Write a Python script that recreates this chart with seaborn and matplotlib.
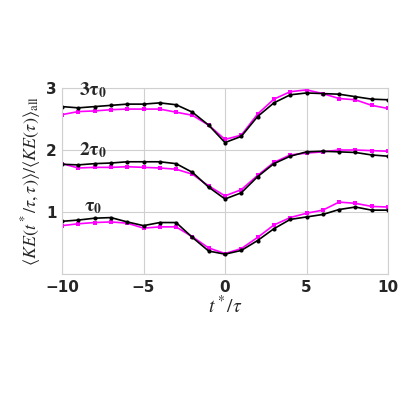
import numpy as np
import matplotlib
matplotlib.use("Agg")
import matplotlib.pyplot as plt
import seaborn as sns
import pandas as pd

t = list(range(-10, 11))
black3 = [2.70,2.68,2.70,2.72,2.74,2.74,2.76,2.73,2.61,2.40,2.12,2.22,2.54,2.76,2.89,2.92,2.91,2.90,2.86,2.82,2.81]
mag3 = [2.57,2.62,2.63,2.65,2.66,2.66,2.66,2.61,2.56,2.40,2.17,2.24,2.58,2.82,2.94,2.97,2.91,2.83,2.81,2.72,2.67]
black2 = [1.77,1.76,1.78,1.79,1.81,1.81,1.81,1.78,1.64,1.40,1.21,1.31,1.57,1.78,1.90,1.97,1.98,1.97,1.96,1.92,1.90]
mag2 = [1.78,1.71,1.72,1.72,1.73,1.72,1.71,1.69,1.61,1.42,1.26,1.36,1.59,1.80,1.92,1.95,1.97,2.00,2.00,1.99,1.98]
black1 = [0.85,0.87,0.90,0.91,0.84,0.78,0.83,0.83,0.59,0.37,0.32,0.38,0.54,0.73,0.88,0.92,0.96,1.04,1.08,1.03,1.03]
mag1 = [0.78,0.81,0.83,0.84,0.82,0.74,0.76,0.76,0.60,0.42,0.33,0.41,0.59,0.79,0.91,0.98,1.03,1.16,1.14,1.09,1.08]
labels = [r"$\mathbf{3\tau_0}$", r"$\mathbf{2\tau_0}$", r"$\mathbf{\tau_0}$"]
label_y = [2.8, 1.84, 0.94]

sns.set_style("white")
plt.rcParams['mathtext.fontset'] = 'stix'
fig = plt.figure(figsize=(4, 4), dpi=100)
ax = fig.add_axes([0.155, 0.315, 0.815, 0.465])
for b, m in [(black3, mag3), (black2, mag2), (black1, mag1)]:
    sns.lineplot(x=t, y=m, ax=ax, color="#ff00ff", marker="s", markersize=3, markeredgewidth=0, lw=1.2)
    sns.lineplot(x=t, y=b, ax=ax, color="black", marker="o", markersize=3, markeredgewidth=0, lw=1.2)
for lab, yy in zip(labels, label_y):
    ax.text(-8.1, yy, lab, fontsize=14, fontweight="bold", ha="center", va="bottom", fontfamily="serif")
ax.set_xlim(-10, 10)
ax.set_ylim(0, 3)
ax.set_xticks([-10, -5, 0, 5, 10])
ax.set_yticks([0, 1, 2, 3])
ax.set_yticklabels(["", "1", "2", "3"])
ax.grid(True, color="#d0d0d0", lw=0.8)
for s in ax.spines.values():
    s.set_color("#d0d0d0")
ax.tick_params(labelsize=11, length=0, pad=4)
for l in ax.get_xticklabels() + ax.get_yticklabels():
    l.set_fontweight("bold")
ax.set_xlabel(r"$t^*/\tau$", fontsize=14, labelpad=0)
ax.set_ylabel(r"$\langle KE(t^*/\tau,\tau)\rangle/\langle KE(\tau)\rangle_{\rm all}$", fontsize=13, labelpad=2)
fig.savefig("out.png", dpi=100)
